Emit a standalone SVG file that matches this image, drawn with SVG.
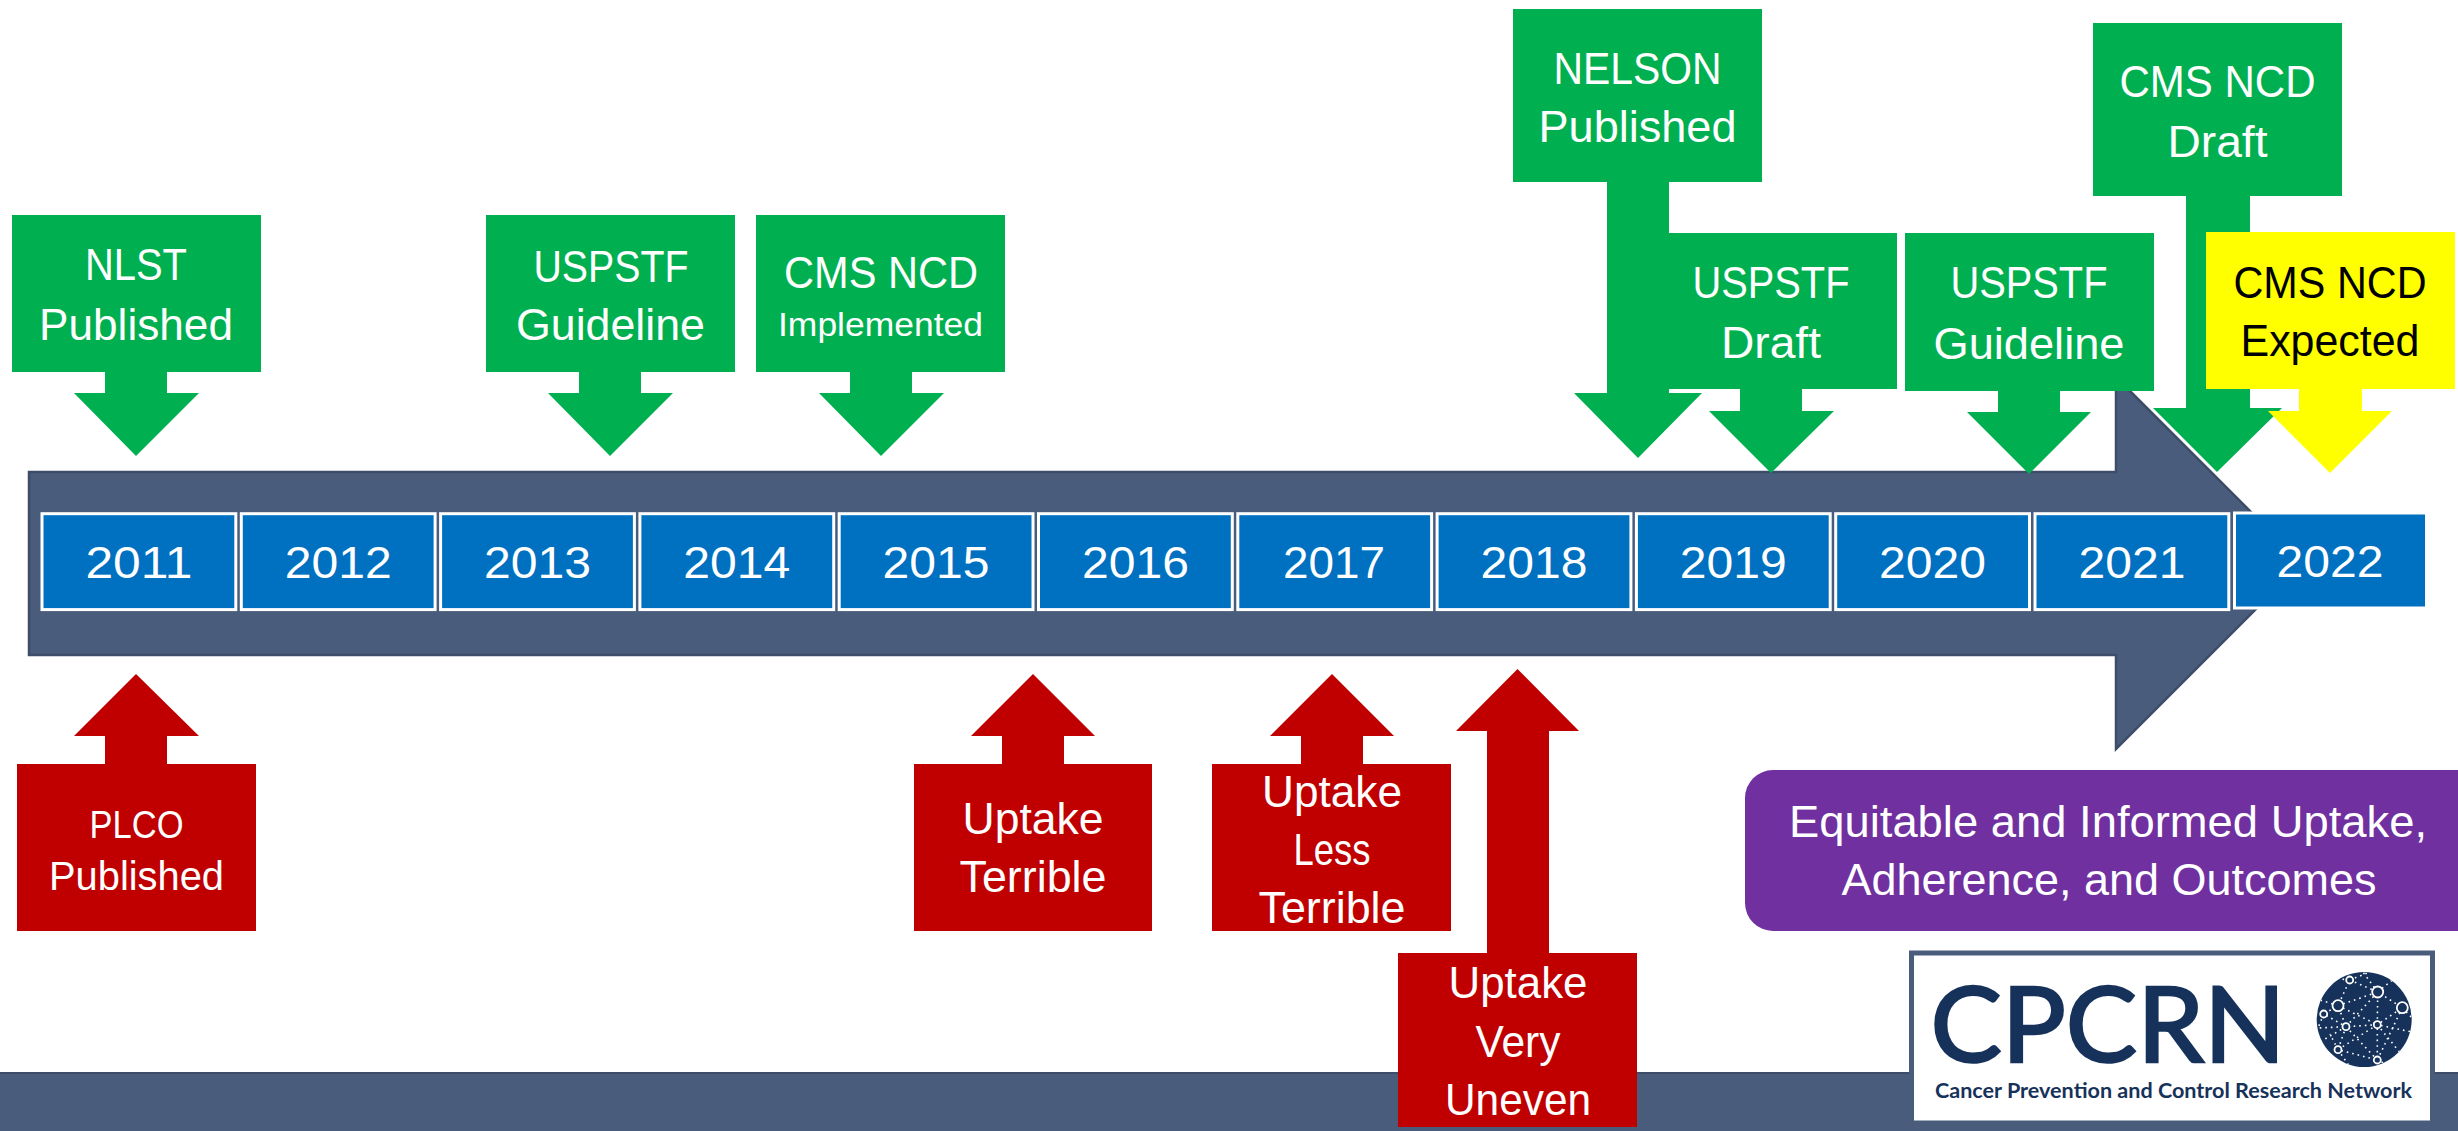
<svg xmlns="http://www.w3.org/2000/svg" width="2458" height="1131" viewBox="0 0 2458 1131">
<defs><clipPath id="globe"><circle cx="2364.200" cy="1019.500" r="47.500"/></clipPath></defs>
<style>
text{font-family:"Liberation Sans",Arial,sans-serif;text-anchor:middle;fill:#fff;font-size:45px}
.g{fill:#00B050}.r{fill:#C00000}.y{fill:#FFFF00}
.yr{fill:#0070C0;stroke:#fff;stroke-width:3}
.dots{stroke:#fff;stroke-width:1.6;stroke-dasharray:1.6 4;fill:none}
.n{fill:#16325A;stroke:#fff;stroke-width:1.8}
</style>
<rect width="2458" height="1131" fill="#fff"/>
<rect id="footer-bar" x="-2" y="1073" width="2462" height="60" fill="#4A5C7C" stroke="#3D4C69" stroke-width="2"/>
<g id="connectors">
<path id="timeline-arrow" d="M29 472H2116V377L2302 563L2116 749V655H29Z" fill="#4A5C7C" stroke="#3D4C69" stroke-width="2.5"/>
</g>
<g id="year-2011"><rect class="yr" x="42" y="513.700" width="193.800" height="95.900"/><text x="138.900" y="577.500" textLength="107" lengthAdjust="spacingAndGlyphs">2011</text></g>
<g id="year-2012"><rect class="yr" x="241.300" y="513.700" width="193.800" height="95.900"/><text x="338.200" y="577.500" textLength="107" lengthAdjust="spacingAndGlyphs">2012</text></g>
<g id="year-2013"><rect class="yr" x="440.600" y="513.700" width="193.800" height="95.900"/><text x="537.500" y="577.500" textLength="107" lengthAdjust="spacingAndGlyphs">2013</text></g>
<g id="year-2014"><rect class="yr" x="639.900" y="513.700" width="193.800" height="95.900"/><text x="736.800" y="577.500" textLength="107" lengthAdjust="spacingAndGlyphs">2014</text></g>
<g id="year-2015"><rect class="yr" x="839.200" y="513.700" width="193.800" height="95.900"/><text x="936.100" y="577.500" textLength="107" lengthAdjust="spacingAndGlyphs">2015</text></g>
<g id="year-2016"><rect class="yr" x="1038.500" y="513.700" width="193.800" height="95.900"/><text x="1135.400" y="577.500" textLength="107" lengthAdjust="spacingAndGlyphs">2016</text></g>
<g id="year-2017"><rect class="yr" x="1237.800" y="513.700" width="193.800" height="95.900"/><text x="1334" y="577.500" textLength="102" lengthAdjust="spacingAndGlyphs">2017</text></g>
<g id="year-2018"><rect class="yr" x="1437.100" y="513.700" width="193.800" height="95.900"/><text x="1534" y="577.500" textLength="107" lengthAdjust="spacingAndGlyphs">2018</text></g>
<g id="year-2019"><rect class="yr" x="1636.400" y="513.700" width="193.800" height="95.900"/><text x="1733.300" y="577.500" textLength="107" lengthAdjust="spacingAndGlyphs">2019</text></g>
<g id="year-2020"><rect class="yr" x="1835.700" y="513.700" width="193.800" height="95.900"/><text x="1932.600" y="577.500" textLength="107" lengthAdjust="spacingAndGlyphs">2020</text></g>
<g id="year-2021"><rect class="yr" x="2035" y="513.700" width="193.800" height="95.900"/><text x="2131.900" y="577.500" textLength="107" lengthAdjust="spacingAndGlyphs">2021</text></g>
<g id="year-2022"><rect class="yr" x="2234.500" y="513" width="192" height="95"/><text x="2330" y="577" textLength="107" lengthAdjust="spacingAndGlyphs">2022</text></g>

<g id="nlst"><path class="g" d="M12 215H261V372H167V393H199L136 456L74 393H105V372H12Z"/><text x="136" y="280" textLength="102" lengthAdjust="spacingAndGlyphs">NLST</text><text x="136" y="340" textLength="194" lengthAdjust="spacingAndGlyphs">Published</text></g>
<g id="uspstf-2013"><path class="g" d="M486 215H735V372H641V393H673L610 456L548 393H579V372H486Z"/><text x="611" y="282" textLength="155" lengthAdjust="spacingAndGlyphs">USPSTF</text><text x="610.500" y="340" textLength="189" lengthAdjust="spacingAndGlyphs">Guideline</text></g>
<g id="cms-implemented"><path class="g" d="M756 215H1005V372H912V393H944L881 456L819 393H850V372H756Z"/><text x="881" y="287.500" textLength="194" lengthAdjust="spacingAndGlyphs">CMS NCD</text><text x="880.500" y="336" style="font-size:33px" textLength="205" lengthAdjust="spacingAndGlyphs">Implemented</text></g>
<g id="uspstf-draft"><path class="g" d="M1646 233H1897V389H1802V411H1834L1771 473L1709 411H1740V389H1646Z"/><text x="1771" y="298" textLength="157" lengthAdjust="spacingAndGlyphs">USPSTF</text><text x="1771" y="358" textLength="100" lengthAdjust="spacingAndGlyphs">Draft</text></g>
<g id="nelson"><path class="g" d="M1513 9H1762V182H1669V393H1702L1638 458L1574 393H1607V182H1513Z"/><text x="1637.500" y="84" textLength="168" lengthAdjust="spacingAndGlyphs">NELSON</text><text x="1637.500" y="142" textLength="198" lengthAdjust="spacingAndGlyphs">Published</text></g>
<g id="uspstf-2020"><path class="g" d="M1905 233H2154V391H2060V412H2091L2029 474L1967 412H1998V391H1905Z"/><text x="2029" y="298" textLength="157" lengthAdjust="spacingAndGlyphs">USPSTF</text><text x="2029" y="359" textLength="191" lengthAdjust="spacingAndGlyphs">Guideline</text></g>
<g id="cms-draft"><path d="M2153 408L2217 473" fill="none" stroke="#fff" stroke-width="3"/><path class="g" d="M2093 23H2342V196H2250V408H2282L2217 472L2153 408H2186V196H2093Z"/><text x="2217.500" y="97" textLength="196" lengthAdjust="spacingAndGlyphs">CMS NCD</text><text x="2217.500" y="157" textLength="100" lengthAdjust="spacingAndGlyphs">Draft</text></g>
<g id="cms-expected"><path class="y" d="M2206 232H2455V389H2362V411H2392L2330 473L2268 411H2299V389H2206Z"/><text x="2330" y="298" style="fill:#000" textLength="193" lengthAdjust="spacingAndGlyphs">CMS NCD</text><text x="2330" y="356" style="fill:#000" textLength="179" lengthAdjust="spacingAndGlyphs">Expected</text></g>

<g id="plco"><path class="r" d="M136 674L199 736H167V764H256V931H17V764H105V736H74Z"/><text x="136.500" y="838" style="font-size:38px" textLength="94" lengthAdjust="spacingAndGlyphs">PLCO</text><text x="136.500" y="890" style="font-size:40px" textLength="175" lengthAdjust="spacingAndGlyphs">Published</text></g>
<g id="uptake-terrible"><path class="r" d="M1033 674L1095 736H1064V764H1152V931H914V764H1002V736H971Z"/><text x="1033" y="834" textLength="141" lengthAdjust="spacingAndGlyphs">Uptake</text><text x="1033" y="892" textLength="147" lengthAdjust="spacingAndGlyphs">Terrible</text></g>
<g id="uptake-less"><path class="r" d="M1332 674L1394 736H1363V764H1451V931H1212V764H1301V736H1270Z"/><text x="1332" y="807" textLength="140" lengthAdjust="spacingAndGlyphs">Uptake</text><text x="1332" y="865" textLength="77" lengthAdjust="spacingAndGlyphs">Less</text><text x="1332" y="923" textLength="147" lengthAdjust="spacingAndGlyphs">Terrible</text></g>
<g id="uptake-uneven"><path class="r" d="M1517.500 669L1579 731H1549V953H1637V1127H1398V953H1487V731H1456Z"/><text x="1518" y="998" textLength="139" lengthAdjust="spacingAndGlyphs">Uptake</text><text x="1518" y="1057" textLength="85" lengthAdjust="spacingAndGlyphs">Very</text><text x="1518" y="1115" textLength="146" lengthAdjust="spacingAndGlyphs">Uneven</text></g>

<g id="outcomes"><rect x="1745" y="770" width="760" height="161" rx="28" fill="#7030A0"/><text x="2108" y="837" textLength="638" lengthAdjust="spacingAndGlyphs">Equitable and Informed Uptake,</text><text x="2109" y="895" textLength="535" lengthAdjust="spacingAndGlyphs">Adherence, and Outcomes</text></g>

<g id="cpcrn-logo">
<rect x="1911.500" y="953" width="521" height="170" fill="#fff" stroke="#4A5C7C" stroke-width="5"/>
<text x="2108" y="1062" style="font-family:Lato,sans-serif;font-size:104px;fill:#16325A;stroke:#16325A;stroke-width:2.5" textLength="355" lengthAdjust="spacingAndGlyphs">CPCRN</text>
<text x="2173.500" y="1098" style="font-family:Lato,sans-serif;font-size:21px;font-weight:700;fill:#16325A" textLength="477" lengthAdjust="spacingAndGlyphs">Cancer Prevention and Control Research Network</text>
<circle cx="2364.200" cy="1019.500" r="47.500" fill="#16325A"/>
<g clip-path="url(#globe)">
<path class="dots" d="M2349.700 980L2377.700 992L2402.300 1007.700L2377.300 1024.700L2346 1026.700L2338 1005.700L2349.700 980M2338 1005.700L2377.700 992L2377.300 1024.700L2377.300 1060L2338 1049.700L2346 1026.700L2323.700 1014L2338 1005.700M2338 1005.700L2377.300 1024.700M2346 1026.700L2377.700 992M2338 1049.700L2377.300 1024.700L2412 1032M2377.300 1024.700L2402 1055M2323.700 1014L2318 1028L2346 1026.700M2346 1026.700L2377.300 1060L2390 1066M2402.300 1007.700L2414 1020M2402.300 1007.700L2377.300 1060M2349.700 980L2375 970M2377.700 992L2360 968M2377.700 992L2395 978M2338 1005.700L2320 1000M2349.700 980L2332 978M2338 1049.700L2330 1034M2338 1049.700L2352 1070M2346 1026.700L2320 1042"/>
</g>
<circle class="n" cx="2349.700" cy="980" r="3.500"/><circle class="n" cx="2377.700" cy="992" r="5.500"/><circle class="n" cx="2402.300" cy="1007.700" r="5.500"/><circle class="n" cx="2338" cy="1005.700" r="5.500"/><circle class="n" cx="2323.700" cy="1014" r="3.500"/><circle class="n" cx="2346" cy="1026.700" r="3.500"/><circle class="n" cx="2377.300" cy="1024.700" r="3.500"/><circle class="n" cx="2338" cy="1049.700" r="3.500"/><circle class="n" cx="2377.300" cy="1060" r="3.500"/>
</g>
</svg>
